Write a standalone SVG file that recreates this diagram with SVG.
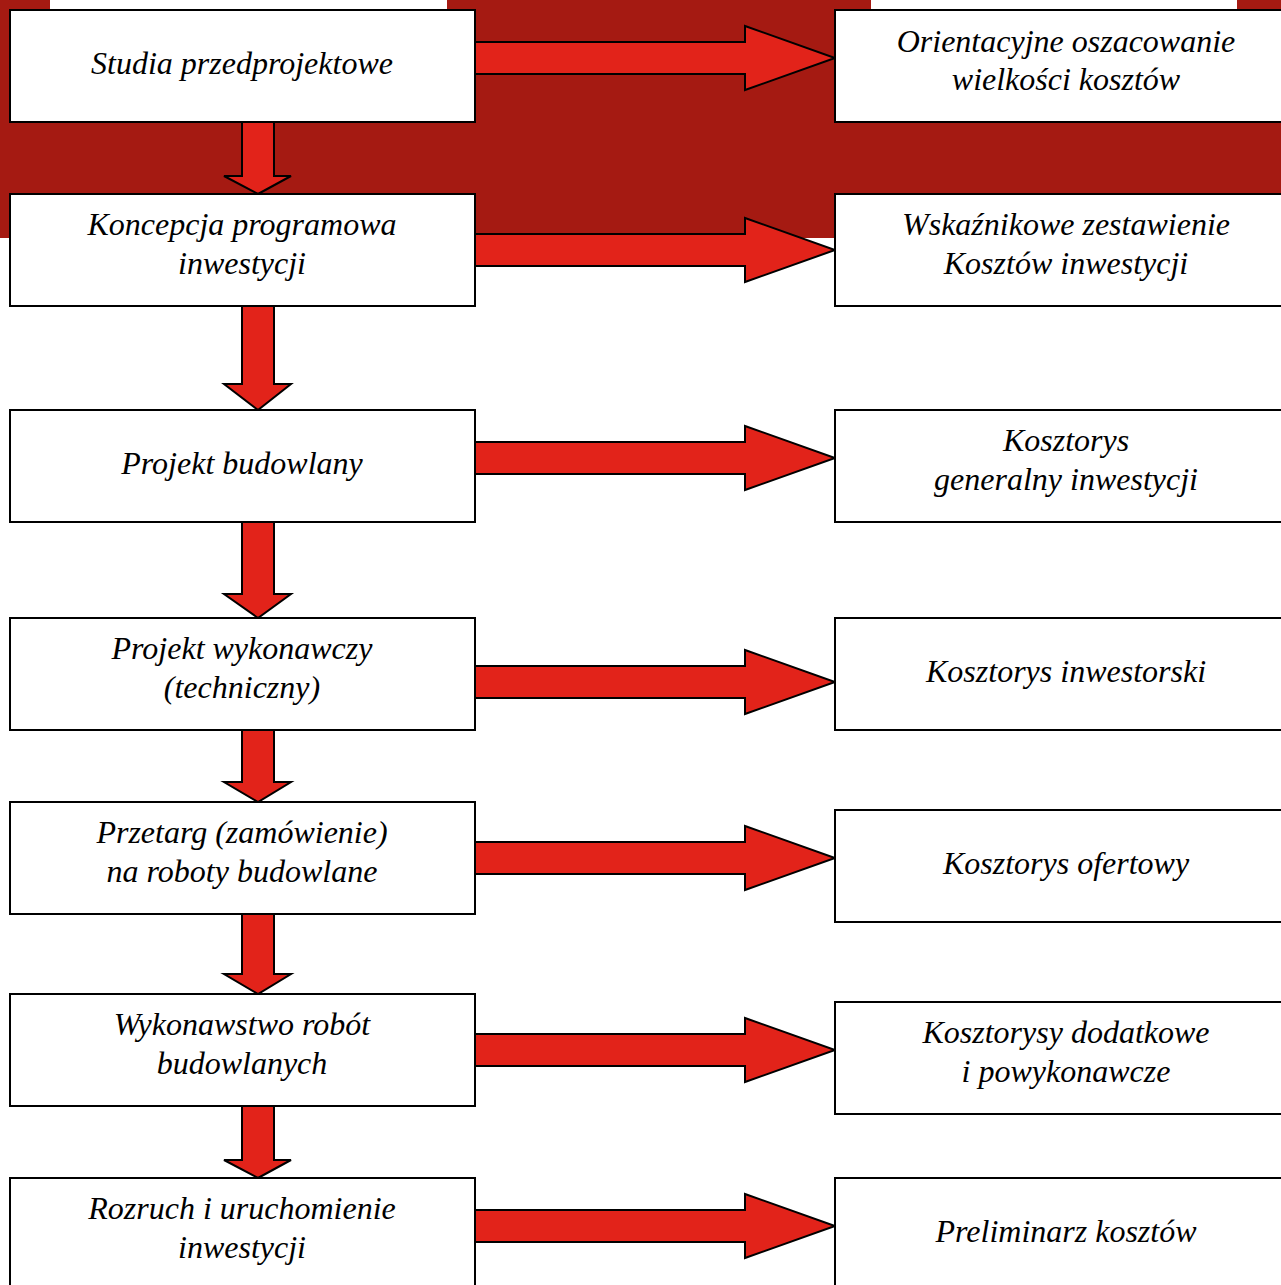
<svg xmlns="http://www.w3.org/2000/svg" width="1281" height="1285" viewBox="0 0 1281 1285">
<style>
.box{fill:#fff;stroke:#000;stroke-width:2}
.arr{fill:#E2231A;stroke:#000;stroke-width:2;stroke-linejoin:miter}
text{font-family:"Liberation Serif","Times New Roman",serif;font-style:italic;font-size:32px;fill:#000;text-anchor:middle}
</style>
<defs>
<path id="ra" d="M0,-16 H270 V-32 L360,0 L270,32 V16 H0 Z"/>
</defs>
<rect width="1281" height="1285" fill="#fff"/>
<g id="background">
<rect x="0" y="0" width="835" height="238" fill="#A51A12"/>
<rect x="835" y="0" width="446" height="194" fill="#A51A12"/>
<rect x="50" y="0" width="397" height="10" fill="#fff"/>
<rect x="871" y="0" width="366" height="10" fill="#fff"/>
</g>
<g id="connectors">
<use href="#ra" class="arr" x="475" y="58"/>
<use href="#ra" class="arr" x="475" y="250"/>
<use href="#ra" class="arr" x="475" y="458"/>
<use href="#ra" class="arr" x="475" y="682"/>
<use href="#ra" class="arr" x="475" y="858"/>
<use href="#ra" class="arr" x="475" y="1050"/>
<use href="#ra" class="arr" x="475" y="1226"/>
<path class="arr" d="M242,122 V176 H224 L258,194 L291,176 H274 V122 Z"/>
<path class="arr" d="M242,306 V384 H224 L258,410 L291,384 H274 V306 Z"/>
<path class="arr" d="M242,522 V594 H224 L258,618 L291,594 H274 V522 Z"/>
<path class="arr" d="M242,730 V782 H224 L258,802 L291,782 H274 V730 Z"/>
<path class="arr" d="M242,914 V974 H224 L258,994 L291,974 H274 V914 Z"/>
<path class="arr" d="M242,1106 V1160 H224 L258,1178 L291,1160 H274 V1106 Z"/>
</g>
<g id="n1"><rect class="box" x="10" y="10" width="465" height="112"/><text x="242" y="74">Studia przedprojektowe</text></g>
<g id="n2"><rect class="box" x="10" y="194" width="465" height="112"/><text x="242" y="235">Koncepcja programowa</text><text x="242" y="274">inwestycji</text></g>
<g id="n3"><rect class="box" x="10" y="410" width="465" height="112"/><text x="242" y="474">Projekt budowlany</text></g>
<g id="n4"><rect class="box" x="10" y="618" width="465" height="112"/><text x="242" y="659">Projekt wykonawczy</text><text x="242" y="698">(techniczny)</text></g>
<g id="n5"><rect class="box" x="10" y="802" width="465" height="112"/><text x="242" y="843">Przetarg (zamówienie)</text><text x="242" y="882">na roboty budowlane</text></g>
<g id="n6"><rect class="box" x="10" y="994" width="465" height="112"/><text x="242" y="1035">Wykonawstwo robót</text><text x="242" y="1074">budowlanych</text></g>
<g id="n7"><rect class="box" x="10" y="1178" width="465" height="120"/><text x="242" y="1219">Rozruch i uruchomienie</text><text x="242" y="1258">inwestycji</text></g>
<g id="r1"><rect class="box" x="835" y="10" width="460" height="112"/><text x="1066" y="52">Orientacyjne oszacowanie</text><text x="1066" y="90">wielkości kosztów</text></g>
<g id="r2"><rect class="box" x="835" y="194" width="460" height="112"/><text x="1066" y="235">Wskaźnikowe zestawienie</text><text x="1066" y="274">Kosztów inwestycji</text></g>
<g id="r3"><rect class="box" x="835" y="410" width="460" height="112"/><text x="1066" y="451">Kosztorys</text><text x="1066" y="490">generalny inwestycji</text></g>
<g id="r4"><rect class="box" x="835" y="618" width="460" height="112"/><text x="1066" y="682">Kosztorys inwestorski</text></g>
<g id="r5"><rect class="box" x="835" y="810" width="460" height="112"/><text x="1066" y="874">Kosztorys ofertowy</text></g>
<g id="r6"><rect class="box" x="835" y="1002" width="460" height="112"/><text x="1066" y="1043">Kosztorysy dodatkowe</text><text x="1066" y="1082">i powykonawcze</text></g>
<g id="r7"><rect class="box" x="835" y="1178" width="460" height="120"/><text x="1066" y="1242">Preliminarz kosztów</text></g>
</svg>
